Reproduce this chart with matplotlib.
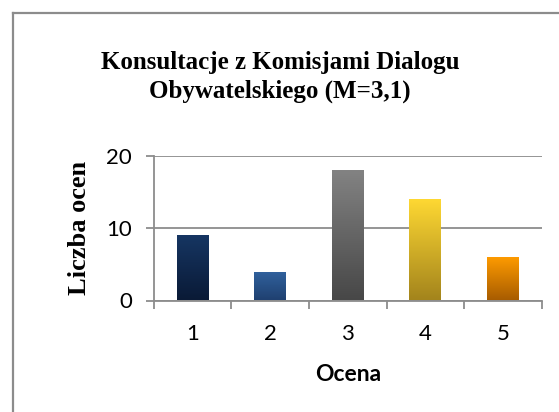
import numpy as np
import matplotlib
matplotlib.use("Agg")
import matplotlib.pyplot as plt
from matplotlib.colors import LinearSegmentedColormap
from matplotlib.lines import Line2D

# dane
oceny = [1, 2, 3, 4, 5]
liczba = [9, 4, 18, 14, 6]
kolory_gora = ["#163663", "#31629e", "#838383", "#ffd933", "#ff9c00"]
kolory_dol = ["#0a1a36", "#1f4070", "#474747", "#a3841c", "#a85c00"]

W, H = 559, 412
fig = plt.figure(figsize=(W / 100, H / 100), dpi=100)
ax = fig.add_axes([154 / W, 1 - 300.5 / H, (541.5 - 154) / W, (300.5 - 156) / H])

bars = ax.bar(oceny, liczba, width=0.41, color="none", zorder=3)

#gradient na slupkach
grad = np.linspace(1, 0, 256).reshape(-1, 1)
for b, c1, c2 in zip(bars, kolory_gora, kolory_dol):
    cmap = LinearSegmentedColormap.from_list("g", [c2, c1])
    x0 = b.get_x()
    im = ax.imshow(grad, cmap=cmap, aspect="auto", zorder=3,
                   extent=[x0, x0 + b.get_width(), 0, b.get_height()])
    im.set_clip_path(b)

ax.set_xlim(0.5, 5.5)
ax.set_ylim(0, 20)
ax.set_yticks([0, 10, 20])
ax.yaxis.grid(True, color="#8c8c8c", linewidth=1.3)
ax.set_axisbelow(True)

ax.set_xticks(oceny)
ax.set_xticks(np.arange(0.5, 6, 1), minor=True)
ax.tick_params(axis="x", which="major", length=0, pad=17)
ax.tick_params(axis="x", which="minor", length=6, width=1.3, color="#8c8c8c")
ax.tick_params(axis="y", length=6, width=1.3, color="#8c8c8c", pad=10)

for lab in ax.get_xticklabels() + ax.get_yticklabels():
    lab.set_fontfamily("Lato")
    lab.set_fontsize(16)

for s in ["top", "right"]:
    ax.spines[s].set_visible(False)
for s in ["left", "bottom"]:
    ax.spines[s].set_color("#8c8c8c")
    ax.spines[s].set_linewidth(1.3)

ax.set_xlabel("Ocena", fontfamily="Lato", fontweight="bold", fontsize=16.5, labelpad=14)
ax.set_ylabel("Liczba ocen", fontfamily="Liberation Serif", fontweight="bold",
              fontsize=19, labelpad=11)

fig.text(280 / W, 1 - 77 / H,
         "Konsultacje z Komisjami Dialogu\nObywatelskiego (M=3,1)",
         ha="center", va="center", fontfamily="Liberation Serif",
         fontweight="bold", fontsize=18, linespacing=1.3)

# ramka
fig.add_artist(Line2D([13 / W, 1], [1 - 13 / H, 1 - 13 / H], color="#8c8c8c", linewidth=1.6))
fig.add_artist(Line2D([13 / W, 13 / W], [0, 1 - 13 / H], color="#8c8c8c", linewidth=1.6))

fig.savefig("out.png", dpi=100)
